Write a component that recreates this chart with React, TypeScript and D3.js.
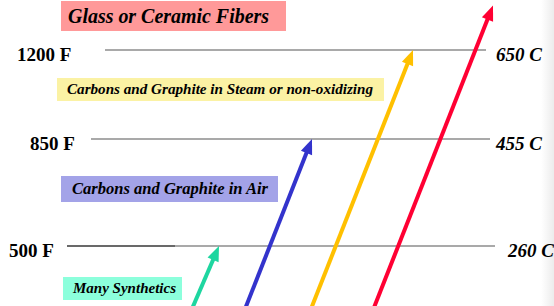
import React from "react";
import * as d3 from "d3";

// ---- data ----
const levelsF = [1200, 850, 500];
const levelsC = [650, 455, 260];
const materials = [
  "Glass or Ceramic Fibers",
  "Carbons and Graphite in Steam or non-oxidizing",
  "Carbons and Graphite in Air",
  "Many Synthetics",
];
const materialMaxF = [1375, 1200, 850, 500];
const materialColors = ["#FF0033", "#FFC000", "#3333CC", "#1ED6A0"];
const boxColors = ["#FF9999", "#FBF2A4", "#A3A3E8", "#8CFFDC"];

// ---- layout ----
const W = 554;
const H = 306;
const fLabelX = [17, 30, 9];
const lineX0 = [105, 91, 67];
const lineX1 = [486, 490, 495];
const cLabelX = [496, 496, 508];
const boxX = [61, 57, 61, 63];
const boxW = [225, 327, 217, 119];
const boxH = [30, 23, 26, 23];
const textX = [68, 67, 72, 73];
const textW = [201, 306, 196, 103];
const textSize = [20, 14, 16, 15];
const tipX = [493, 413, 312, 219];
const slope = [0.394, 0.394, 0.394, 0.43];

export default function App() {
  const y = d3.scaleLinear().domain([500, 850, 1200]).range([246, 139, 50]);
  const font = "'Liberation Serif', 'Times New Roman', serif";
  const headLen = 15;
  const headHalf = 6;

  return (
    <div style={{ position: "absolute", left: 0, top: 0 }}>
      <svg width={W} height={H} style={{ display: "block", background: "#fff" }}>
        <defs>
          <linearGradient id="edge" x1="0" x2="1" y1="0" y2="0">
            <stop offset="0" stopColor="#ffffff" />
            <stop offset="1" stopColor="#ececec" />
          </linearGradient>
        </defs>
        <rect x={541} y={0} width={13} height={H} fill="url(#edge)" />
        {levelsF.map((f, i) => (
          <g key={f}>
            <line
              x1={lineX0[i]}
              x2={lineX1[i]}
              y1={y(f)}
              y2={y(f)}
              stroke="#8c8c8c"
              strokeWidth={1.5}
            />
            <text
              x={fLabelX[i]}
              y={y(f) + 11}
              fontFamily={font}
              fontWeight="bold"
              fontSize={19}
              fill="#000"
            >
              {`${f} F`}
            </text>
            <text
              x={cLabelX[i]}
              y={y(f) + 11}
              fontFamily={font}
              fontWeight="bold"
              fontStyle="italic"
              fontSize={19}
              fill="#000"
            >
              {`${levelsC[i]} C`}
            </text>
          </g>
        ))}
        {/* darker left part of the 500 F line */}
        <line x1={67} x2={175} y1={y(500)} y2={y(500)} stroke="#555" strokeWidth={1.3} />
        {materials.map((m, i) => {
          const ty = y(materialMaxF[i]);
          const boxTop = [1, 78, 176, 277][i];
          return (
            <g key={m}>
              <rect x={boxX[i]} y={boxTop} width={boxW[i]} height={boxH[i]} fill={boxColors[i]} />
              <text
                x={textX[i]}
                y={boxTop + boxH[i] / 2 + textSize[i] * 0.33}
                fontFamily={font}
                fontWeight="bold"
                fontStyle="italic"
                fontSize={textSize[i]}
                textLength={textW[i]}
                lengthAdjust="spacingAndGlyphs"
                fill="#000"
              >
                {m}
              </text>
            </g>
          );
        })}
        {materials.map((m, i) => {
          const ty = y(materialMaxF[i]);
          const tx = tipX[i];
          const s = slope[i];
          const len = Math.sqrt(1 + s * s);
          const ux = s / len;
          const uy = -1 / len;
          const bx = tx - ux * headLen;
          const by = ty - uy * headLen;
          const px = -uy;
          const py = ux;
          const yBottom = H + 20;
          const xBottom = tx - s * (yBottom - ty);
          const lineEndX = tx - ux * (headLen - 2);
          const lineEndY = ty - uy * (headLen - 2);
          const head = d3.path();
          head.moveTo(tx, ty);
          head.lineTo(bx + px * headHalf, by + py * headHalf);
          head.lineTo(bx - px * headHalf, by - py * headHalf);
          head.closePath();
          return (
            <g key={"a" + m}>
              <line
                x1={xBottom}
                y1={yBottom}
                x2={lineEndX}
                y2={lineEndY}
                stroke={materialColors[i]}
                strokeWidth={4}
              />
              <path d={head.toString()} fill={materialColors[i]} />
            </g>
          );
        })}
      </svg>
    </div>
  );
}
